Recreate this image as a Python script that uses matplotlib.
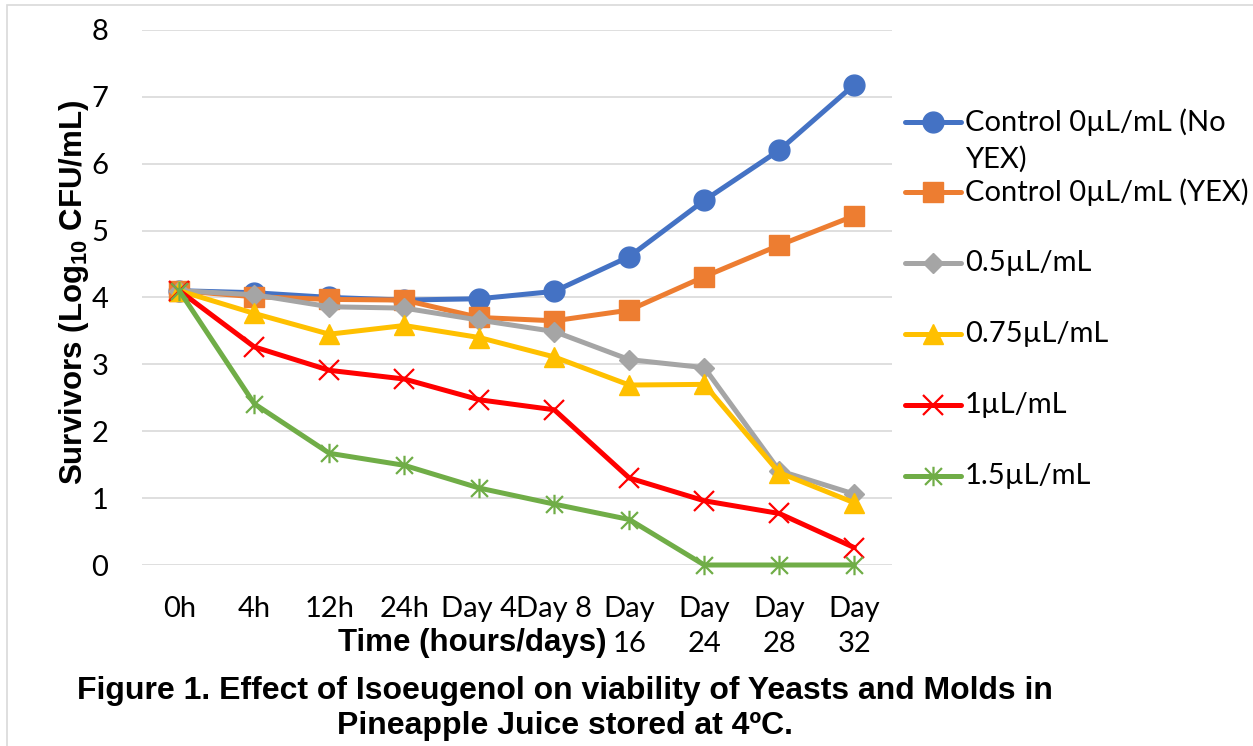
import matplotlib
matplotlib.use("Agg")
import matplotlib.pyplot as plt
from matplotlib.lines import Line2D
from matplotlib.path import Path
from matplotlib.patches import Rectangle

# ---------------- data ----------------
time_labels = ["0h", "4h", "12h", "24h", "Day 4", "Day 8", "Day\n16", "Day\n24", "Day\n28", "Day\n32"]
control_no_yex = [4.10, 4.07, 4.00, 3.96, 3.98, 4.09, 4.61, 5.45, 6.20, 7.18]
control_yex    = [4.10, 4.01, 3.97, 3.96, 3.70, 3.65, 3.81, 4.31, 4.78, 5.22]
iso_0_5        = [4.10, 4.04, 3.86, 3.84, 3.66, 3.49, 3.07, 2.95, 1.41, 1.06]
iso_0_75       = [4.10, 3.76, 3.45, 3.58, 3.40, 3.11, 2.69, 2.70, 1.38, 0.93]
iso_1          = [4.10, 3.26, 2.91, 2.78, 2.47, 2.32, 1.30, 0.96, 0.77, 0.26]
iso_1_5        = [4.10, 2.41, 1.67, 1.49, 1.15, 0.91, 0.68, 0.00, 0.00, 0.00]
series_labels = ["Control 0\u00b5L/mL (No\nYEX)", "Control 0\u00b5L/mL (YEX)", "0.5\u00b5L/mL",
                 "0.75\u00b5L/mL", "1\u00b5L/mL", "1.5\u00b5L/mL"]
y_ticks = [0, 1, 2, 3, 4, 5, 6, 7, 8]

W, H = 1253, 746
TXT = ["Lato", "DejaVu Sans"]
BOLD = ["Liberation Sans", "DejaVu Sans"]
plt.rcParams["mathtext.fontset"] = "custom"
plt.rcParams["mathtext.rm"] = "Liberation Sans"
plt.rcParams["mathtext.bf"] = "Liberation Sans:bold"

star = Path([(-1, -1), (1, 1), (-1, 1), (1, -1), (0, -1.15), (0, 1.15)],
            [Path.MOVETO, Path.LINETO, Path.MOVETO, Path.LINETO, Path.MOVETO, Path.LINETO])

styles = [
    dict(color="#4472C4", marker="o", ms=15, mfc="#4472C4", mec="#4472C4", mew=1),
    dict(color="#ED7D31", marker="s", ms=15, mfc="#ED7D31", mec="#ED7D31", mew=1),
    dict(color="#A5A5A5", marker="D", ms=10, mfc="#A5A5A5", mec="#A5A5A5", mew=1),
    dict(color="#FFC000", marker="^", ms=15, mfc="#FFC000", mec="#FFC000", mew=1),
    dict(color="#FF0000", marker="x", ms=14, mfc="none", mec="#FF0000", mew=1.6),
    dict(color="#70AD47", marker=star, ms=14, mfc="none", mec="#70AD47", mew=1.6),
]
data = [control_no_yex, control_yex, iso_0_5, iso_0_75, iso_1, iso_1_5]

fig = plt.figure(figsize=(W / 100, H / 100), dpi=100)
fig.patches.append(Rectangle((7 / W, -0.05), 1.2, 1 - 5 / H + 0.05, transform=fig.transFigure,
                             fill=False, edgecolor="#D9D9D9", linewidth=1.2))

x0, x1, ytop, ybot = 141.8, 891.8, 29.8, 565.0
ax = fig.add_axes([x0 / W, 1 - ybot / H, (x1 - x0) / W, (ybot - ytop) / H])
xs = list(range(len(time_labels)))
for vals, st in zip(data, styles):
    ax.plot(xs, vals, linewidth=3.6, clip_on=False, zorder=3, solid_capstyle="round",
            color=st["color"], marker=st["marker"], markersize=st["ms"],
            markerfacecolor=st["mfc"], markeredgecolor=st["mec"], markeredgewidth=st["mew"])

ax.set_xlim(-0.5, len(time_labels) - 0.5)
ax.set_ylim(0, 8)
ax.set_yticks(y_ticks)
ax.set_xticks(xs)
ax.set_xticklabels(time_labels, fontsize=21, family=TXT, linespacing=1.45)
ax.set_yticklabels([str(t) for t in y_ticks], fontsize=21, family=TXT)
ax.tick_params(axis="both", length=0)
ax.tick_params(axis="y", pad=24)
ax.tick_params(axis="x", pad=22)
ax.grid(axis="y", color="#D9D9D9", linewidth=1.2)
ax.set_axisbelow(True)
for s in ax.spines.values():
    s.set_visible(False)

def fx(px):
    return px / W

def fy(py):
    return 1 - py / H

# axis titles and figure title
fig.text(fx(472), fy(643), "Time (hours/days)", family=BOLD, weight="bold", fontsize=22.5,
         ha="center", va="center")
fig.text(fx(74), fy(292), r"Survivors (Log$_{\mathbf{10}}$ CFU/mL)", family=BOLD, weight="bold",
         fontsize=22.5, rotation=90, ha="center", va="center")
fig.text(fx(565), fy(691), "Figure 1. Effect of Isoeugenol on viability of Yeasts and Molds in",
         family=BOLD, weight="bold", fontsize=23.0, ha="center", va="center")
fig.text(fx(565), fy(726), "Pineapple Juice stored at 4\u00baC.",
         family=BOLD, weight="bold", fontsize=23.0, ha="center", va="center")

# legend (manual placement)
entry_y = [122, 192, 263, 334, 405, 476]
for lab, st, yy in zip(series_labels, styles, entry_y):
    fig.add_artist(Line2D([fx(905), fx(961)], [fy(yy), fy(yy)], transform=fig.transFigure,
                          linewidth=3.6, color=st["color"], solid_capstyle="round"))
    fig.add_artist(Line2D([fx(933)], [fy(yy)], transform=fig.transFigure, linestyle="none",
                          marker=st["marker"], markersize=st["ms"], markerfacecolor=st["mfc"],
                          markeredgecolor=st["mec"], markeredgewidth=st["mew"]))
    lines = lab.split("\n")
    for k, ln in enumerate(lines):
        fig.text(fx(965), fy(yy + 37 * k), ln, family=TXT, fontsize=21, ha="left", va="center")

fig.savefig("out.png", dpi=100)
